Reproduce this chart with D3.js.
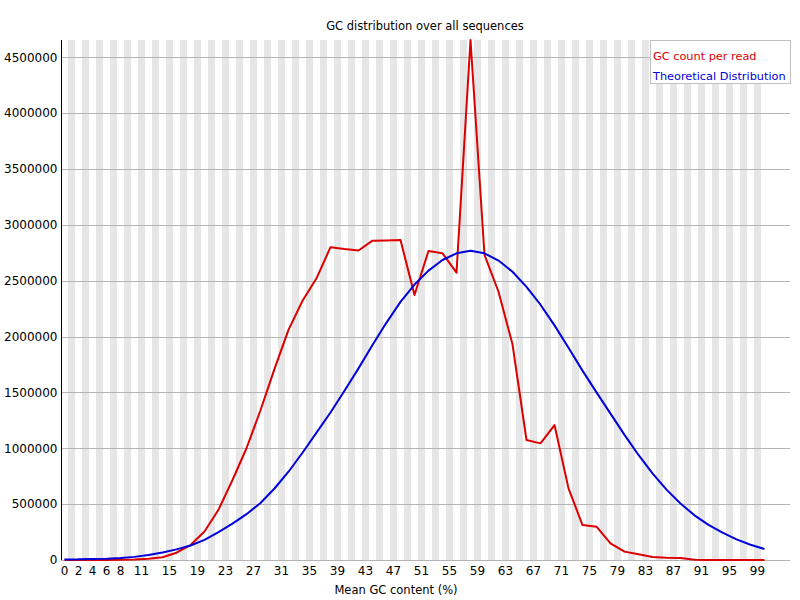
<!DOCTYPE html>
<html>
<head>
<meta charset="utf-8">
<script src="https://cdn.jsdelivr.net/npm/d3@7"></script>
<style>
  body { margin: 0; background: #fff; }
  text { font-family: "DejaVu Sans", sans-serif; }
</style>
</head>
<body>
<script>
// GC content bins (%)
var gcPercent = [0, 2, 4, 6, 8, 10, 12, 14, 16, 18, 20, 22, 24, 26, 28, 30, 32, 34, 36, 38,
    40, 42, 44, 46, 48, 50, 52, 54, 56, 58, 60, 62, 64, 66, 68, 70, 72, 74, 76, 78,
    80, 82, 84, 86, 88, 90, 92, 94, 96, 98, 100];

var gcCount = [0, 0, 0, 1000, 2000, 4000, 12000, 25000, 65000, 134000,
    255000, 450000, 716000, 1000000, 1340000, 1710000, 2060000, 2320000, 2521000, 2800000,
    2783000, 2770000, 2858000, 2860000, 2864000, 2372000, 2766000, 2745000, 2572000, 4654000,
    2730000, 2401000, 1930000, 1074000, 1044000, 1208000, 641000, 313000, 298000, 149000,
    75000, 51000, 27000, 21000, 18000, 2000, 1000, 1000, 0, 0, 0];

var theoretical = [5000, 6000, 10000, 12000, 18000, 28000, 45000, 68000, 95000, 130000,
    180000, 250000, 325000, 410000, 510000, 640000, 790000, 960000, 1140000, 1320000,
    1515000, 1715000, 1925000, 2125000, 2310000, 2465000, 2590000, 2685000, 2745000, 2768000,
    2745000, 2680000, 2580000, 2445000, 2285000, 2100000, 1900000, 1695000, 1500000, 1310000,
    1120000, 940000, 775000, 630000, 505000, 400000, 315000, 245000, 185000, 137000, 98000];

var xTickLabels = [0, 2, 4, 6, 8, 11, 15, 19, 23, 27, 31, 35, 39, 43, 47, 51, 55, 59,
    63, 67, 71, 75, 79, 83, 87, 91, 95, 99];
var yTicks = [0, 500000, 1000000, 1500000, 2000000, 2500000, 3000000, 3500000, 4000000, 4500000];

var seriesNames = ["GC count per read", "Theoretical Distribution"];
var seriesColors = ["#dc0000", "#0000dc"];

var width = 800, height = 600;
var plotLeft = 61, plotTop = 40, plotBottom = 560, plotRight = 790;
var nBins = 101, baseWidth = 7;

var svg = d3.select("body").append("svg").attr("width", width).attr("height", height);

var x = d3.scaleBand().domain(d3.range(nBins)).range([plotLeft, plotLeft + nBins * baseWidth]).padding(0);
var y = d3.scaleLinear().domain([0, d3.max(gcCount)]).range([plotBottom, plotTop]);

// alternating stripes
svg.append("g").selectAll("rect").data(d3.range(nBins).filter(function (i) { return i % 2 == 1; }))
    .enter().append("rect")
    .attr("x", function (d) { return x(d); })
    .attr("y", plotTop)
    .attr("width", x.bandwidth())
    .attr("height", plotBottom - plotTop)
    .attr("fill", "#e6e6e6")
    .attr("shape-rendering", "crispEdges");

// horizontal grid lines
svg.append("g").selectAll("line").data(yTicks).enter().append("line")
    .attr("x1", plotLeft).attr("x2", plotRight)
    .attr("y1", function (d) { return Math.round(y(d)) + 0.5; })
    .attr("y2", function (d) { return Math.round(y(d)) + 0.5; })
    .attr("stroke", "#b4b4b4")
    .attr("shape-rendering", "crispEdges");

// y axis
var yAxis = svg.append("g").attr("transform", "translate(" + (plotLeft + 0.5) + ",0)")
    .call(d3.axisLeft(y).tickValues(yTicks).tickSize(0).tickPadding(4).tickFormat(d3.format("d")));
yAxis.select(".domain").attr("stroke", "#000").attr("d", "M0," + plotTop + "V" + plotBottom);
yAxis.selectAll("text").attr("font-size", 12).attr("fill", "#000");

// x axis labels
var xAxis = svg.append("g").attr("transform", "translate(0," + plotBottom + ")")
    .call(d3.axisBottom(x).tickValues(xTickLabels).tickSize(0).tickPadding(6));
xAxis.select(".domain").remove();
xAxis.selectAll("text").attr("font-size", 12).attr("fill", "#000");

// lines
var line = d3.line()
    .x(function (d) { return x(d[0]) + x.bandwidth() / 2; })
    .y(function (d) { return y(d[1]); });

[gcCount, theoretical].forEach(function (vals, k) {
    svg.append("path")
        .datum(gcPercent.map(function (g, i) { return [g, vals[i]]; }))
        .attr("fill", "none")
        .attr("stroke", seriesColors[k])
        .attr("stroke-width", 2)
        .attr("stroke-linejoin", "round")
        .attr("d", line);
});

// titles
svg.append("text").attr("x", 425).attr("y", 30).attr("text-anchor", "middle")
    .attr("font-size", 11.5).text("GC distribution over all sequences");
svg.append("text").attr("x", 396).attr("y", 594).attr("text-anchor", "middle")
    .attr("font-size", 11.5).text("Mean GC content (%)");

// legend
svg.append("rect").attr("x", 650.5).attr("y", 40.5).attr("width", 140).attr("height", 43)
    .attr("fill", "#fff").attr("stroke", "#c0c0c0");
seriesNames.forEach(function (name, k) {
    svg.append("text").attr("x", 653).attr("y", 60 + k * 20)
        .attr("font-size", 11.3).attr("fill", seriesColors[k]).text(name);
});
</script>
</body>
</html>
